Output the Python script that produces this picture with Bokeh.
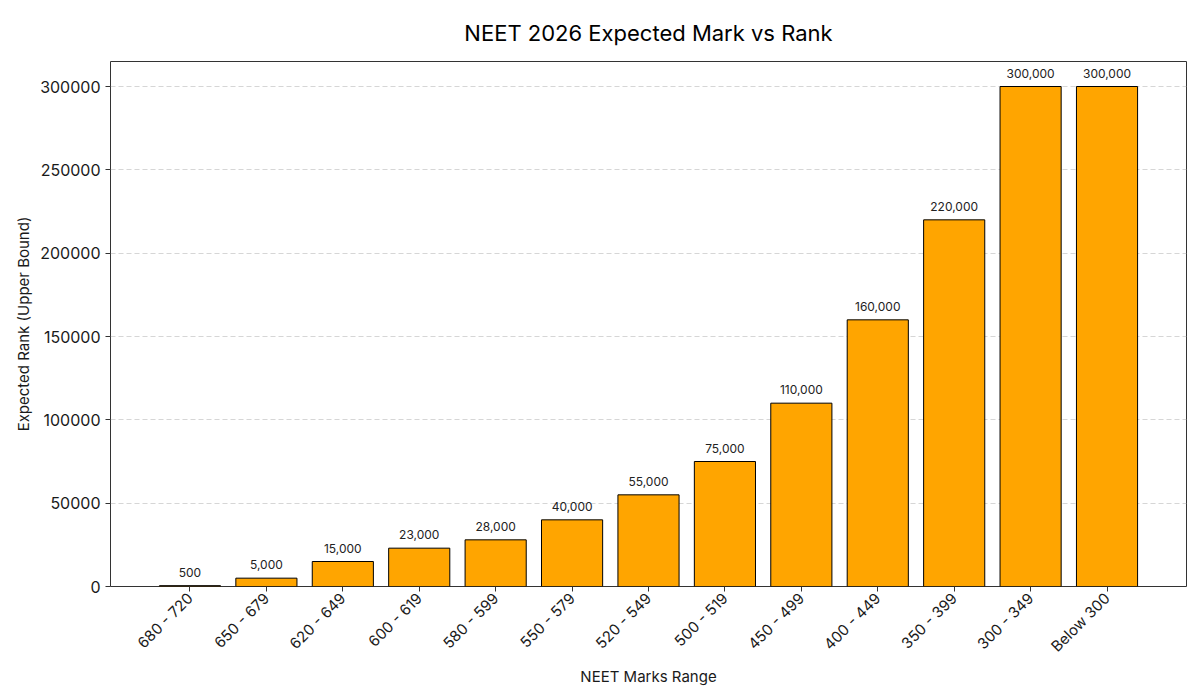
from bokeh.plotting import figure
from bokeh.models import ColumnDataSource, FixedTicker, Range1d, CustomJSTickFormatter
from bokeh.embed import file_html
from bokeh.resources import INLINE
from bokeh.core.properties import value
import math

categories = ["680 - 720", "650 - 679", "620 - 649", "600 - 619", "580 - 599",
              "550 - 579", "520 - 549", "500 - 519", "450 - 499", "400 - 449",
              "350 - 399", "300 - 349", "Below 300"]
ranks = [500, 5000, 15000, 23000, 28000, 40000, 55000, 75000, 110000, 160000,
         220000, 300000, 300000]
y_ticks = [0, 50000, 100000, 150000, 200000, 250000, 300000]

FONT = "Inter"

xs = list(range(len(categories)))
src = ColumnDataSource(dict(
    x=xs, top=ranks, label=[f"{v:,}" for v in ranks], cat=categories))

p = figure(width=1192, height=692, output_backend="svg", toolbar_location=None,
           x_range=Range1d(-1.04, len(categories) - 1 + 1.04),
           y_range=Range1d(0, max(ranks) * 1.05),
           min_border_left=110, min_border_right=6,
           min_border_top=61, min_border_bottom=106)

p.vbar(x="x", top="top", width=0.8, source=src, fill_color="#FFA500",
       line_color="black", line_width=1)
p.text(x="x", y="top", text="label", source=src, text_align="center",
       text_baseline="bottom", y_offset=-9, text_font_size="12px",
       text_color="#222222", text_font=value(FONT))

p.title.text = "NEET 2026 Expected Mark vs Rank"
p.title.align = "center"
p.title.text_font = FONT
p.title.text_font_size = "22px"
p.title.text_font_style = "normal"
p.title.text_color = "black"
p.title.offset = -4
p.title.standoff = 32

p.xaxis.ticker = FixedTicker(ticks=xs)
p.xaxis.formatter = CustomJSTickFormatter(
    args=dict(cats=categories), code="return cats[Math.round(tick)];")
p.xaxis.major_label_orientation = math.pi / 4
p.yaxis.ticker = FixedTicker(ticks=y_ticks)
p.yaxis.formatter = CustomJSTickFormatter(code="return tick.toFixed(0);")

for ax in (p.xaxis, p.yaxis):
    ax.major_label_text_font = FONT
    ax.major_label_text_font_size = "16px"
    ax.major_label_text_color = "#1a1a1a"
    ax.axis_label_text_font = FONT
    ax.axis_label_text_font_size = "15px"
    ax.axis_label_text_font_style = "normal"
    ax.axis_label_text_color = "#1a1a1a"
    ax.minor_tick_line_color = None
    ax.major_tick_in = 0
    ax.major_tick_out = 5
    ax.axis_line_color = None
    ax.major_tick_line_color = "#333333"

p.xaxis.axis_label = "NEET Marks Range"
p.yaxis.axis_label = "Expected Rank (Upper Bound)"
p.xaxis.major_label_text_font_size = "15px"
p.xaxis.major_label_standoff = 4
p.xaxis.axis_label_standoff = 2
p.yaxis.axis_label_standoff = 4

p.outline_line_color = "#333333"
p.outline_line_width = 1
p.xgrid.grid_line_color = None
p.ygrid.grid_line_color = "#cccccc"
p.ygrid.grid_line_dash = "5 3"
p.ygrid.grid_line_alpha = 0.8
p.background_fill_color = "white"
p.border_fill_color = "white"

open("out.html", "w").write(file_html(p, INLINE))
